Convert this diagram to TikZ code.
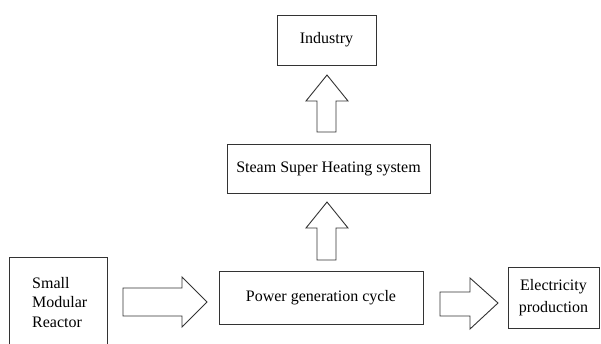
\documentclass[tikz,border=0pt]{standalone}
\usepackage{fontspec}
\setmainfont{Liberation Serif}
\begin{document}
\begin{tikzpicture}[x=1pt,y=-1pt,
  box/.style={draw=black!80,line width=0.9pt,inner sep=0pt,font=\fontsize{16}{20}\selectfont},
  blockarrow/.style={draw=black!80,line width=0.9pt,line join=miter}]
\useasboundingbox (0,0) rectangle (601,343);
\node[box,minimum width=99pt,minimum height=50pt] (ind) at (326.5,40) {Industry};
\node[box,minimum width=203pt,minimum height=49pt] (steam) at (328.5,168.5) {Steam Super Heating system};
\node[box,minimum width=204pt,minimum height=53pt] (power) at (321,297.5) {Power generation cycle};
\draw[black!80,line width=0.9pt] (9,350) -- (9,257) -- (107,257) -- (107,350);
\node[font=\fontsize{16}{19.5}\selectfont,align=left,anchor=north west,inner sep=0pt] (smr) at (32,277) {Small\\Modular\\Reactor};
\node[box,minimum width=91pt,minimum height=61pt,align=center,font=\fontsize{16}{22}\selectfont] (elec) at (553.5,297.5) {Electricity\\production};
% up arrows
\draw[blockarrow] (317,132) -- (317,101) -- (306,101) -- (327,75) -- (348,101) -- (336,101) -- (336,132) -- cycle;
\draw[blockarrow] (317,260) -- (317,228) -- (306,228) -- (327,202) -- (348,228) -- (336,228) -- (336,260) -- cycle;
% right arrows
\draw[blockarrow] (123,288) -- (182,288) -- (182,277) -- (207,302) -- (182,327) -- (182,316) -- (123,316) -- cycle;
\draw[blockarrow] (440,292) -- (470,292) -- (470,278) -- (498,303) -- (470,329) -- (470,316) -- (440,316) -- cycle;
\end{tikzpicture}
\end{document}
